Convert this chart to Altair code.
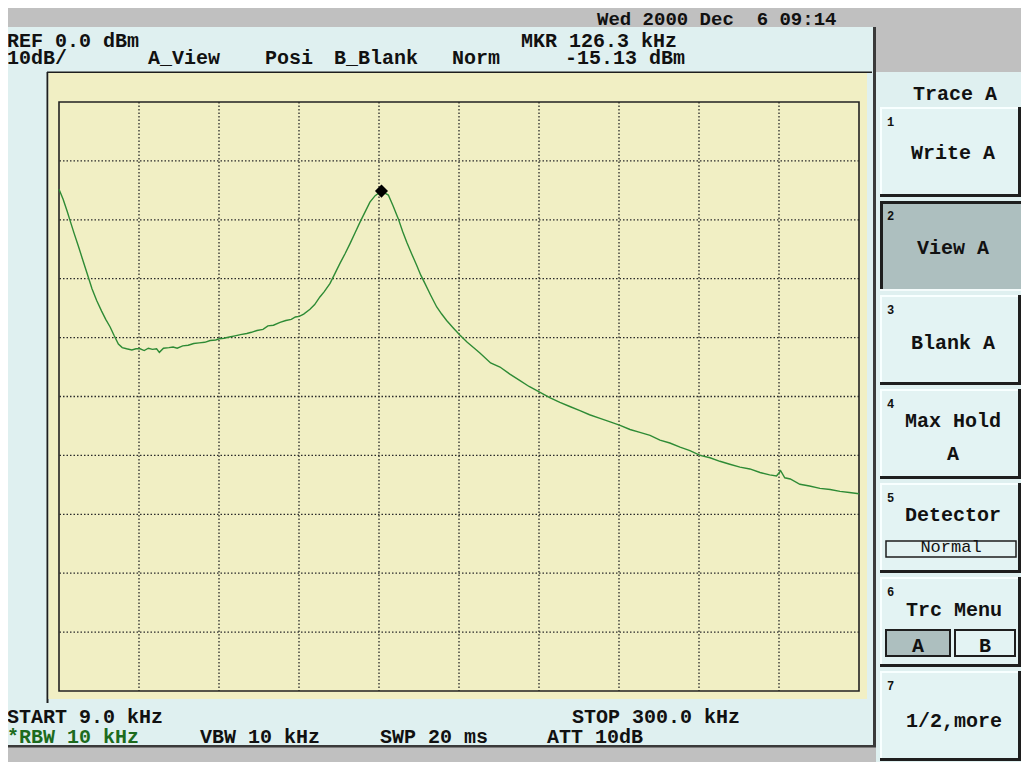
import altair as alt
import pandas as pd

# ---------------- data ----------------
FREQ_KHZ = [9.0, 10.5, 12.0, 13.0, 14.5, 16.0, 17.5, 19.7, 21.0, 22.7, 24.5, 26.0, 27.6, 29.0,
            30.6, 32.0, 33.6, 35.5, 37.0, 38.5, 40.0, 41.5, 43.0, 44.5, 45.5, 47.0, 49.0, 50.5,
            52.0, 54.0, 56.0, 58.0, 60.0, 62.0, 64.0, 66.0, 67.3, 69.0, 71.0, 73.0, 75.0, 77.3,
            79.0, 81.0, 83.2, 85.0, 87.0, 89.4, 91.5, 93.5, 95.0, 96.4, 98.0, 100.3, 102.0, 103.9,
            105.5, 107.6, 109.4, 111.2, 113.0, 114.9, 116.7, 118.5, 120.3, 122.1, 124.0, 126.3,
            128.8, 130.5, 132.4, 134.0, 135.5, 137.3, 139.1, 140.6, 142.1, 144.2, 146.4, 148.2,
            150.0, 152.5, 154.9, 157.5, 160.3, 162.1, 166.0, 169.4, 173.0, 176.7, 180.0, 184.0,
            187.5, 191.2, 194.8, 198.5, 202.0, 205.8, 209.5, 213.1, 216.7, 220.3, 224.0, 227.6,
            231.2, 234.9, 238.5, 242.2, 245.8, 249.4, 253.0, 256.7, 260.3, 264.0, 267.5, 270.0,
            271.5, 273.0, 275.0, 278.5, 282.0, 285.8, 289.5, 293.1, 296.5, 300.0]
LEVEL_DBM = [-14.8, -16.5, -18.6, -20.1, -22.3, -24.4, -26.6, -29.8, -31.7, -33.7, -35.5, -36.9, -38.2, -39.6,
             -41.1, -41.7, -41.9, -42.1, -41.9, -41.9, -42.2, -41.8, -42.0, -41.9, -42.5, -41.8, -41.7, -41.6,
             -41.8, -41.4, -41.3, -41.0, -40.9, -40.8, -40.5, -40.4, -40.2, -40.1, -39.9, -39.7, -39.5, -39.3,
             -39.1, -38.8, -38.6, -38.0, -37.9, -37.4, -37.1, -36.9, -36.5, -36.4, -36.0, -35.2, -34.4, -33.1,
             -32.2, -30.8, -29.1, -27.4, -25.8, -24.0, -22.2, -20.4, -18.7, -17.0, -15.9, -15.13,
             -15.8, -17.6, -19.8, -22.0, -23.8, -25.8, -27.7, -29.4, -30.8, -32.8, -34.8, -36.0,
             -37.1, -38.4, -39.6, -40.8, -41.9, -42.6, -44.3, -45.0, -46.2, -47.3, -48.3, -49.3,
             -50.2, -51.0, -51.7, -52.4, -53.1, -53.7, -54.3, -54.9, -55.6, -56.1, -56.6, -57.4,
             -57.9, -58.6, -59.2, -60.0, -60.4, -61.0, -61.5, -62.0, -62.3, -62.9, -63.3, -63.5,
             -62.6, -63.8, -64.0, -64.9, -65.2, -65.6, -65.8, -66.1, -66.3, -66.5]
MARKER_KHZ = [126.3]
MARKER_DBM = [-15.13]
X_GRID = [38.1, 67.2, 96.3, 125.4, 154.5, 183.6, 212.7, 241.8, 270.9]
Y_GRID = [-10, -20, -30, -40, -50, -60, -70, -80, -90]

trace = pd.DataFrame({"freq": FREQ_KHZ, "dbm": LEVEL_DBM})
marker = pd.DataFrame({"freq": MARKER_KHZ, "dbm": MARKER_DBM})
gx = pd.DataFrame({"gx": X_GRID})
gy = pd.DataFrame({"gy": Y_GRID})

# ---------------- layout ----------------
W, H = 800, 589
OX, OY = 59, 102          # page position of the plot area's top-left corner
TOTAL_W, TOTAL_H = 1013, 754
FONT = "Liberation Mono"
FS = 20
GRAY = "#c0c0c0"
CYAN = "#dff0f0"
YELLOW = "#f1efc4"
DARK = "#1e1e1e"
PRESSED = "#adbfbf"
NB = "\u00a0"

ONE = alt.Data(values=[{"k": 0}])

xs = alt.Scale(domain=[9, 300], nice=False, zero=False)
ys = alt.Scale(domain=[-100, 0], nice=False, zero=False)


def R(x0, y0, x1, y1, fill, **kw):
    return alt.Chart(ONE).mark_rect(fill=fill, **kw).encode(
        x=alt.value(x0 - OX), x2=alt.value(x1 - OX),
        y=alt.value(y0 - OY), y2=alt.value(y1 - OY))


def T(x, y, text, size=FS, color="#111111", align="left", weight="bold"):
    return alt.Chart(ONE).mark_text(
        text=text, font=FONT, fontSize=size, fontWeight=weight, color=color,
        align=align, baseline="alphabetic").encode(
        x=alt.value(x - OX), y=alt.value(y - OY))


layers = []
# screen regions
layers += [
    R(0, 0, 1029, 27, GRAY),
    R(874, 27, 1029, 72, GRAY),
    R(0, 747, 876, 771, GRAY),
    R(0, 745, 876, 747.5, "#3a3a3a"),
    R(873, 27, 876, 747, "#3a3a3a"),
    R(47, 71.5, 872, 73, DARK),
    R(46.5, 72, 48.5, 703, DARK),
    R(48.5, 73, 867, 699, YELLOW),
]

# grid
layers.append(alt.Chart(gx).mark_rule(color="#2a2a2a", strokeWidth=1.3, strokeDash=[1.5, 2]).encode(
    x=alt.X("gx:Q", scale=xs, axis=None)))
layers.append(alt.Chart(gy).mark_rule(color="#2a2a2a", strokeWidth=1.3, strokeDash=[1.5, 2]).encode(
    y=alt.Y("gy:Q", scale=ys, axis=None)))
# plot border
layers.append(alt.Chart(ONE).mark_rect(fillOpacity=0, stroke="#222222", strokeWidth=1.6).encode(
    x=alt.value(0), x2=alt.value(W), y=alt.value(0), y2=alt.value(H)))

# trace + marker
layers.append(alt.Chart(trace).mark_line(color="#2e8b35", strokeWidth=1.4).encode(
    x=alt.X("freq:Q", scale=xs, axis=None),
    y=alt.Y("dbm:Q", scale=ys, axis=None)))
layers.append(alt.Chart(marker).mark_point(shape="diamond", filled=True, color="#000000",
                                           size=170, opacity=1).encode(
    x=alt.X("freq:Q", scale=xs, axis=None),
    y=alt.Y("dbm:Q", scale=ys, axis=None)))

# header / footer texts
layers += [
    T(597, 25, f"Wed 2000 Dec{NB}{NB}6 09:14", size=19),
    T(7, 47, "REF 0.0 dBm"),
    T(7, 64, "10dB/"),
    T(148, 64, "A_View"),
    T(265, 64, "Posi"),
    T(334, 64, "B_Blank"),
    T(452, 64, "Norm"),
    T(521, 47, "MKR 126.3 kHz"),
    T(565, 64, "-15.13 dBm"),
    T(7, 723, "START 9.0 kHz"),
    T(7, 743, "*RBW 10 kHz", color="#1d6b1d"),
    T(200, 743, "VBW 10 kHz"),
    T(380, 743, "SWP 20 ms"),
    T(572, 723, "STOP 300.0 kHz"),
    T(547, 743, "ATT 10dB"),
]

# right soft-key panel
layers.append(R(877, 72, 1029, 771, CYAN))
layers.append(T(955, 100, "Trace A", align="center"))

BTN_TOPS = [107, 201, 295, 389, 483, 577, 671]
for i, t in enumerate(BTN_TOPS):
    b = t + 90
    if i == 1:
        layers += [
            R(880, t, 1026, b, PRESSED),
            R(880, t, 1026, t + 3, DARK),
            R(880, t, 883, b, DARK),
            R(1024, t, 1026, b, "#f4fbfb"),
            R(880, b - 2, 1026, b, "#f4fbfb"),
        ]
    else:
        layers += [
            R(880, t, 1026, b, "#e3f3f3"),
            R(880, t, 1026, t + 2, "#f8ffff"),
            R(880, t, 882, b, "#f8ffff"),
            R(1018, t, 1021, b, DARK),
            R(880, b - 3, 1026, b, DARK),
        ]
    layers.append(T(887, t + 19, str(i + 1), size=12))

layers += [
    T(953, 159, "Write A", align="center"),
    T(953, 254, "View A", align="center"),
    T(953, 349, "Blank A", align="center"),
    T(953, 427, "Max Hold", align="center"),
    T(953, 460, "A", align="center"),
    T(953, 521, "Detector", align="center"),
    T(954, 616, "Trc Menu", align="center"),
    T(954, 727, "1/2,more", align="center"),
    # Detector value box
    R(886, 541, 1016, 557, "#e3f3f3", stroke=DARK, strokeWidth=1.5),
    T(951, 552, "Normal", size=17, weight="normal", align="center"),
    # A / B boxes
    R(886, 630, 950, 656, PRESSED, stroke=DARK, strokeWidth=2),
    R(955, 630, 1015, 656, "#e3f3f3", stroke=DARK, strokeWidth=2),
    T(918, 652, "A", align="center"),
    T(985, 652, "B", align="center"),
]

chart = alt.layer(*layers).properties(
    width=W, height=H,
    autosize=alt.AutoSizeParams(type="none"),
    padding={"left": OX - 8, "top": OY - 8,
             "right": TOTAL_W - (OX - 8) - W, "bottom": TOTAL_H - (OY - 8) - H},
    background=CYAN,
).configure_view(stroke="transparent")

chart.save("out.html", embed_options={"renderer": "svg", "actions": False})
